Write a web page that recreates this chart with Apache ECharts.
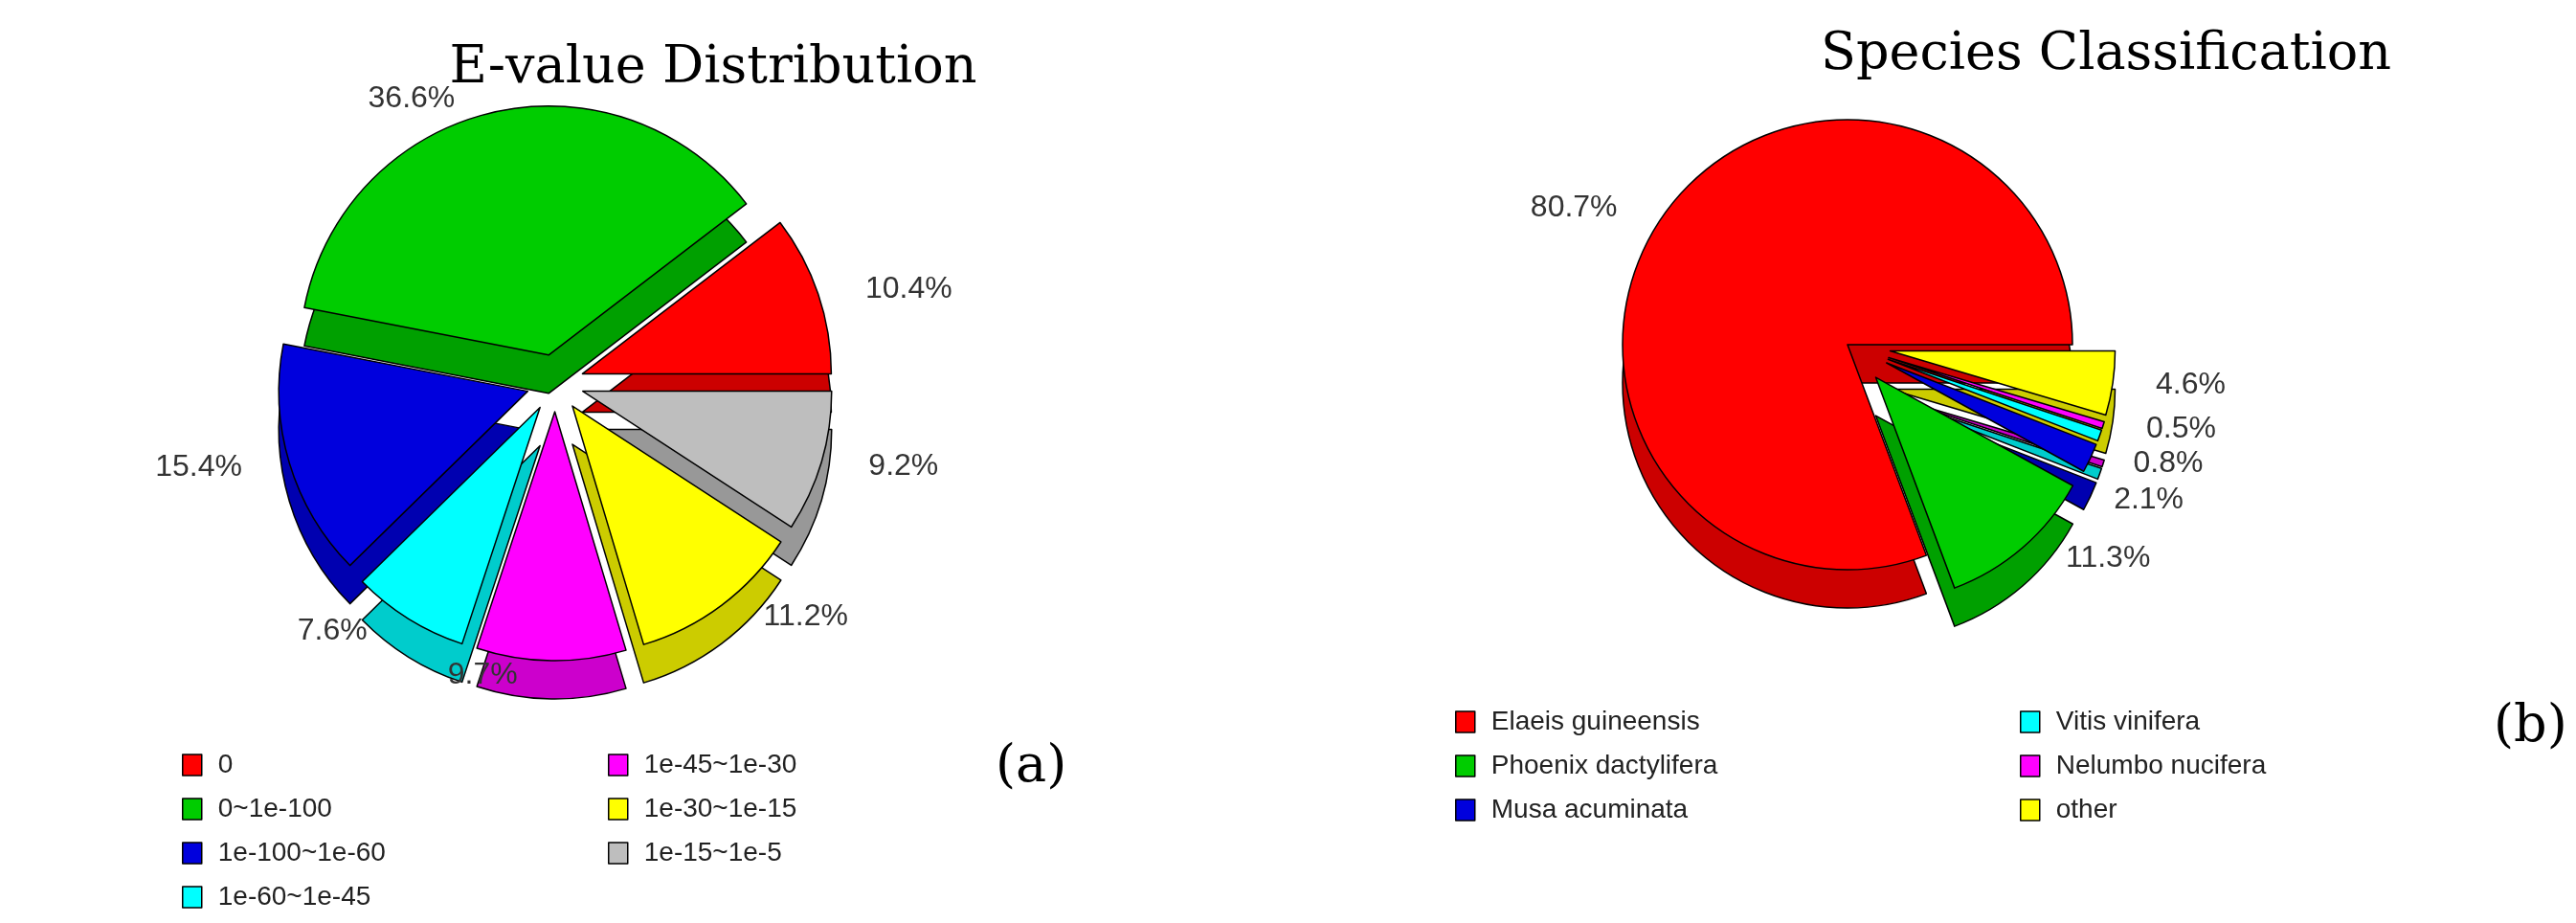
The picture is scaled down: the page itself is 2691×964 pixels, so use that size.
<!DOCTYPE html>
<html>
<head>
<meta charset="utf-8">
<script src="https://cdn.jsdelivr.net/npm/echarts@6/dist/echarts.min.js"></script>
<style>html,body{margin:0;background:#fff}#main{width:2691px;height:964px}</style>
</head>
<body>
<div id="main"></div>
<script>
// E-value distribution (a)
const evalueNames = ['0', '0~1e-100', '1e-100~1e-60', '1e-60~1e-45', '1e-45~1e-30', '1e-30~1e-15', '1e-15~1e-5'];
const evalueValues = [10.4, 36.6, 15.4, 7.6, 9.7, 11.2, 9.2];
const evalueColors = ['#FF0000', '#00CC00', '#0000DD', '#00FFFF', '#FF00FF', '#FFFF00', '#BEBEBE'];
const evalueDark = ['#CC0000', '#00A000', '#0000B0', '#00CCCC', '#CC00CC', '#CCCC00', '#989898'];

// species classification (b)
const speciesNames = ['Elaeis guineensis', 'Phoenix dactylifera', 'Musa acuminata', 'Vitis vinifera', 'Nelumbo nucifera', 'other'];
const speciesValues = [80.7, 11.3, 2.1, 0.8, 0.5, 4.6];
const speciesColors = ['#FF0000', '#00CC00', '#0000DD', '#00FFFF', '#FF00FF', '#FFFF00'];
const speciesDark = ['#CC0000', '#00A000', '#0000B0', '#00CCCC', '#CC00CC', '#CCCC00'];

var myChart = echarts.init(document.getElementById('main'));

function pieData(names, values, colors, explode) {
    return names.map(function(n, i) {
        return {
            name: n, value: values[i],
            selected: explode(i),
            itemStyle: { color: colors[i] }
        };
    });
}

function pies(names, values, colors, dark, center, radius, offset, explode) {
    var base = {
        type: 'pie',
        radius: radius,
        startAngle: 0,
        clockwise: false,
        selectedMode: 'multiple',
        selectedOffset: offset,
        animation: false,
        emphasis: { disabled: true },
        itemStyle: { borderColor: '#000', borderWidth: 1.5 }
    };
    var top = Object.assign({}, base, {
        center: center, z: 3,
        data: pieData(names, values, colors, explode),
        label: {
            show: true, position: 'outside', fontSize: 32, color: '#333',
            fontFamily: 'Liberation Sans',
            formatter: function(p) { return p.value.toFixed(1) + '%'; }
        },
        labelLine: { show: false }
    });
    var depth = Object.assign({}, base, {
        center: [center[0], center[1] + 40], z: 2, silent: true,
        data: pieData(names, values, dark, explode),
        label: { show: false }, labelLine: { show: false }
    });
    return [top, depth];
}

var legendText = { fontSize: 28, color: '#222', fontFamily: 'Liberation Sans', padding: [0, 0, 0, 12] };
var legendBase = {
    orient: 'vertical', itemWidth: 20, itemHeight: 22, itemGap: 18, height: 250,
    icon: 'rect', textStyle: legendText, selectedMode: false,
    itemStyle: { borderColor: '#000', borderWidth: 1.5 }
};

var titleFont = { fontFamily: 'DejaVu Serif', fontWeight: 'normal', fontSize: 54, color: '#000' };

var option = {
    backgroundColor: '#fff',
    title: [
        { text: 'E-value Distribution', left: 740, top: 40, textAlign: 'center', textStyle: titleFont },
        { text: 'Species Classification', left: 2195, top: 26, textAlign: 'center', textStyle: titleFont },
        { text: '(a)', left: 1035, top: 770, textStyle: titleFont },
        { text: '(b)', left: 2600, top: 728, textStyle: titleFont }
    ],
    legend: [
        Object.assign({}, legendBase, { left: 185, top: 780, data: evalueNames.slice(0, 4) }),
        Object.assign({}, legendBase, { left: 630, top: 780, data: evalueNames.slice(4) }),
        Object.assign({}, legendBase, { left: 1515, top: 735, data: speciesNames.slice(0, 3) }),
        Object.assign({}, legendBase, { left: 2105, top: 735, data: speciesNames.slice(3) })
    ],
    series: [].concat(
        pies(evalueNames, evalueValues, evalueColors, evalueDark, [580, 400], 260, 30,
             function() { return true; }),
        pies(speciesNames, speciesValues, speciesColors, speciesDark, [1930, 360], 235, 45,
             function(i) { return i > 0; })
    )
};

myChart.setOption(option);
</script>
</body>
</html>
